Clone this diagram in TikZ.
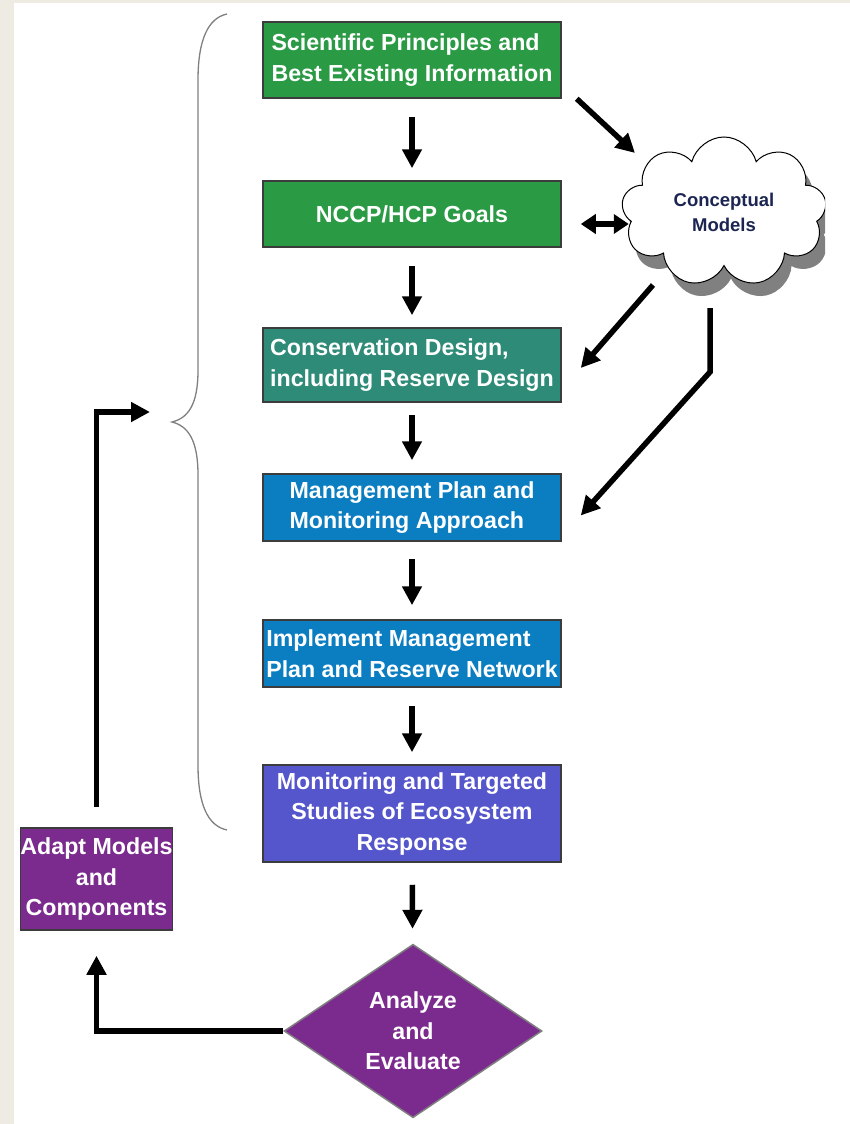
\documentclass[tikz,border=0pt]{standalone}
\usepackage{fontspec}
\setmainfont{Liberation Sans}
\usetikzlibrary{shapes.geometric,shapes.symbols,shadows,arrows.meta,calc}

\definecolor{paper}{RGB}{238,235,226}
\definecolor{planGreen}{RGB}{43,154,69}
\definecolor{designTeal}{RGB}{46,139,120}
\definecolor{planBlue}{RGB}{11,126,194}
\definecolor{studyViolet}{RGB}{85,85,204}
\definecolor{adaptPurple}{RGB}{123,43,142}
\definecolor{boxEdge}{RGB}{60,60,60}
\definecolor{braceGray}{RGB}{128,128,128}
\definecolor{shadowGray}{RGB}{128,128,128}
\definecolor{modelNavy}{RGB}{28,37,82}

\newcommand{\boxfont}{\fontsize{23.2}{30.5}\selectfont\bfseries}
\newcommand{\cloudfont}{\fontsize{18.5}{25}\selectfont\bfseries}

\tikzstyle{process} = [rectangle, minimum width=298pt, inner sep=3pt, draw=boxEdge, line width=1.5pt, text=white, font=\boxfont, align=left]
\tikzstyle{decision} = [diamond, minimum width=258pt, minimum height=163pt, inner sep=0pt, draw=braceGray, line width=1.5pt, fill=adaptPurple, text=white, font=\boxfont, align=center]
\tikzstyle{arrow} = [line width=5.5pt, -{Triangle[width=19pt,length=19pt]}]
\tikzstyle{dblarrow} = [line width=5.5pt, {Triangle[width=19pt,length=15pt]}-{Triangle[width=19pt,length=15pt]}]

\begin{document}
\begin{tikzpicture}[x=1pt,y=-1pt]
% page and panel
\fill[paper] (0,0) rectangle (850,1124);
\fill[white] (14,3) rectangle (850,1124);

% main column
\node (sci) [process, fill=planGreen, minimum height=76pt] at (412,60) {Scientific Principles and\\Best Existing Information};
\node (goals) [process, fill=planGreen, minimum height=66pt, align=center] at (412,214) {NCCP/HCP Goals};
\node (design) [process, fill=designTeal, minimum height=74pt] at (412,365) {Conservation Design,\\including Reserve Design};
\node (mgmt) [process, fill=planBlue, minimum height=67pt] at (412,507.5) {Management Plan and\\Monitoring Approach};
\node (implement) [process, fill=planBlue, minimum height=67pt] at (412,653.5) {Implement Management\\Plan and Reserve Network};
\node (monitor) [process, fill=studyViolet, minimum height=97pt, align=center] at (412,813.5) {Monitoring and Targeted\\Studies of Ecosystem\\Response};
\node (analyze) [decision] at (413,1031) {Analyze\\and\\Evaluate};
\node (adapt) [process, fill=adaptPurple, minimum width=149pt, minimum height=102pt, inner sep=0pt, align=center] at (96.5,879) {Adapt Models\\and\\Components};

% cloud, cut at the right edge
\begin{scope}
\clip (0,0) rectangle (825,1124);
\node (models) [cloud, cloud puffs=9, aspect=1.4, draw=black, line width=1pt, fill=white, minimum width=205pt, minimum height=150pt, drop shadow={shadow xshift=7pt, shadow yshift=-13pt, fill=shadowGray, opacity=1}, text=modelNavy, font=\cloudfont, align=center] at (724,212) {Conceptual\\Models};
\end{scope}

% brace
\draw[braceGray, line width=1.3pt] (227,14) .. controls (208,18) and (198,40) .. (198,80) -- (198,370) .. controls (198,405) and (188,418) .. (172,422) .. controls (188,426) and (198,440) .. (198,475) -- (198,765) .. controls (198,805) and (208,826) .. (227,830);
\coordinate (feed) at (150,412);

% arrows
\draw [arrow, shorten <=18pt, shorten >=12pt] (sci) -- (goals);
\draw [arrow, shorten <=18pt, shorten >=12pt] (goals) -- (design);
\draw [arrow, shorten <=12pt, shorten >=13pt] (design) -- (mgmt);
\draw [arrow, shorten <=17pt, shorten >=14pt] (mgmt) -- (implement);
\draw [arrow, shorten <=18pt, shorten >=12pt] (implement) -- (monitor);
\draw [arrow, shorten <=22pt, shorten >=15pt] (monitor) -- (analyze);

\draw [arrow] ($(sci.south east)+(15,0)$) -- ($(models.center)+(-89,-59)$);
\draw [dblarrow] ($(goals.east)+(19,10)$) -- ($(goals.east)+(67,10)$);
\draw [arrow] ($(models.center)+(-71,73)$) -- ($(design.east)+(19,3)$);
\draw [arrow] ($(models.center)+(-14,96)$) -- ++(0,64) -- ($(mgmt.east)+(19,8)$);

% feedback loop
\draw [arrow, shorten >=25pt] (analyze.west) -| (adapt.south);
\draw [arrow, shorten <=20pt] (adapt.north) |- (feed);
\end{tikzpicture}
\end{document}
